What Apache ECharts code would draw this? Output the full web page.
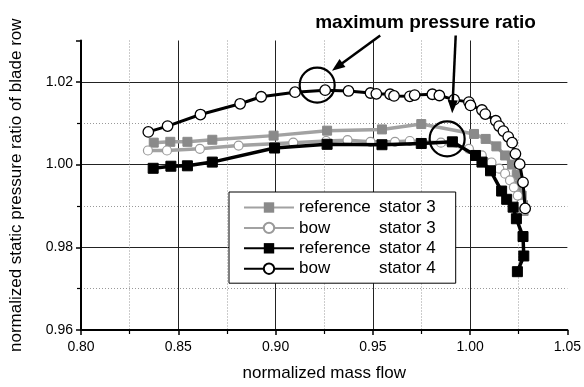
<!DOCTYPE html>
<html><head><meta charset="utf-8">
<script src="https://cdn.jsdelivr.net/npm/echarts@6/dist/echarts.min.js"></script>
<style>html,body{margin:0;padding:0;background:#fff}#c{width:584px;height:387px}</style>
</head><body><div id="c"></div>
<script>
// ---- data (normalized mass flow, normalized static pressure ratio) ----
const xTicks = [0.80, 0.85, 0.90, 0.95, 1.00, 1.05];
const yTicks = [0.96, 0.98, 1.00, 1.02];
const seriesNames = ['reference stator 3', 'bow stator 3', 'reference stator 4', 'bow stator 4'];

const refStator3 = [
  [0.8374,1.0053],[0.8459,1.0055],[0.8547,1.0055],[0.8675,1.0060],[0.8990,1.0070],
  [0.9265,1.0082],[0.9547,1.0085],[0.9749,1.0098],[1.0020,1.0074],[1.0080,1.0062],
  [1.0135,1.0044],[1.0180,1.0022],[1.0215,1.0000],[1.0240,0.9975],[1.0255,0.9950],
  [1.0265,0.9925],[1.0272,0.9902],[1.0275,0.9888]
];
const bowStator3 = [
  [0.8344,1.0034],[0.8442,1.0034],[0.8611,1.0038],[0.8810,1.0046],[0.9091,1.0053],
  [0.9260,1.0057],[0.9370,1.0059],[0.9488,1.0055],[0.9614,1.0055],[0.9690,1.0057],
  [0.9850,1.0053],[0.9994,1.0038],[1.0060,1.0022],[1.0110,1.0005],[1.0150,0.9990],
  [1.0180,0.9978],[1.0205,0.9962],[1.0225,0.9945],[1.0245,0.9925],[1.0262,0.9905],
  [1.0275,0.9890]
];
const refStator4 = [
  [0.8371,0.9991],[0.8462,0.9996],[0.8547,0.9997],[0.8675,1.0006],[0.8995,1.0040],
  [0.9265,1.0049],[0.9547,1.0048],[0.9749,1.0051],[0.9909,1.0055],[1.0028,1.0022],
  [1.0061,1.0006],[1.0105,0.9985],[1.0162,0.9936],[1.0188,0.9916],[1.0221,0.9897],
  [1.0238,0.9869],[1.0272,0.9826],[1.0276,0.9779],[1.0243,0.9741]
];
const bowStator4 = [
  [0.8346,1.0079],[0.8445,1.0093],[0.8614,1.0121],[0.8818,1.0147],[0.8926,1.0164],
  [0.9100,1.0175],[0.9255,1.0180],[0.9375,1.0178],[0.9488,1.0173],[0.9518,1.0171],
  [0.9589,1.0170],[0.9609,1.0166],[0.9690,1.0165],[0.9715,1.0168],[0.9806,1.0170],
  [0.9842,1.0167],[0.9918,1.0157],[0.9994,1.0151],[1.0002,1.0143],[1.0061,1.0132],
  [1.0078,1.0122],[1.0132,1.0106],[1.0149,1.0093],[1.0171,1.0081],[1.0196,1.0067],
  [1.0216,1.0053],[1.0233,1.0026],[1.0255,1.0001],[1.0272,0.9957],[1.0283,0.9894]
];

// annotation anchors (data coordinates)
const annotationText = 'maximum pressure ratio';
const annotationTextAt = [0.9771, 1.0342];
const highlightCircles = [[0.9214, 1.0192], [0.9882, 1.0062]];
const arrows = [
  {from: [0.9538, 1.0312], to: [0.9290, 1.0227]},
  {from: [0.9926, 1.0312], to: [0.9908, 1.0124]}
];

const FONT = '"Liberation Sans", Arial, Helvetica, sans-serif';
const chart = echarts.init(document.getElementById('c'), null, {renderer: 'canvas'});

const gray = '#a2a2a2';
const axisCommon = {
  type: 'value',
  axisLine: {show: true, lineStyle: {color: '#000', width: 2}},
  axisTick: {show: true, length: 5, lineStyle: {color: '#000', width: 1.5}},
  minorTick: {show: true, splitNumber: 2, length: 4, lineStyle: {color: '#000', width: 1.2}},
  splitLine: {show: true, showMinLine: false, showMaxLine: false, lineStyle: {color: '#222', width: 1}},
  minorSplitLine: {show: true, lineStyle: {color: '#999', width: 1, type: [1, 2]}},
  axisLabel: {color: '#000', fontSize: 14, fontFamily: FONT, formatter: v => v.toFixed(2)},
  nameLocation: 'middle',
  nameTextStyle: {color: '#000', fontSize: 17, fontFamily: FONT}
};

const option = {
  animation: false,
  backgroundColor: '#fff',
  grid: {left: 76, right: 14, top: 40.5, bottom: 51, containLabel: false},
  xAxis: Object.assign({}, axisCommon, {
    min: xTicks[0], max: xTicks[xTicks.length - 1], interval: 0.05,
    name: 'normalized mass flow', nameGap: 35,
    axisLabel: Object.assign({}, axisCommon.axisLabel, {margin: 10})
  }),
  yAxis: Object.assign({}, axisCommon, {
    min: yTicks[0], max: 1.03, interval: 0.02,
    name: 'normalized static pressure ratio of blade row', nameGap: 56,
    axisLabel: Object.assign({}, axisCommon.axisLabel, {margin: 8, showMaxLabel: false})
  }),
  legend: {
    left: 229, top: 192, orient: 'vertical',
    backgroundColor: '#fff', borderColor: '#000', borderWidth: 1,
    padding: [7, 20, 6, 14],
    itemWidth: 50, itemHeight: 13, itemGap: 3.4,
    data: seriesNames,
    formatter: name => {
      const i = name.lastIndexOf(' stator');
      return '{a|' + name.slice(0, i) + '}{b|' + name.slice(i + 1) + '}';
    },
    textStyle: {
      color: '#000', fontSize: 17, fontFamily: FONT,
      rich: {
        a: {width: 80, fontSize: 17, fontFamily: FONT, lineHeight: 20, color: '#000'},
        b: {fontSize: 17, fontFamily: FONT, lineHeight: 20, color: '#000'}
      }
    }
  },
  series: [
    {name: seriesNames[0], type: 'line', data: refStator3, symbol: 'rect', symbolSize: 9,
     lineStyle: {color: gray, width: 3.5}, itemStyle: {color: '#8a8a8a', borderColor: '#8a8a8a'}, z: 2},
    {name: seriesNames[1], type: 'line', data: bowStator3, symbol: 'circle', symbolSize: 9,
     lineStyle: {color: gray, width: 3.5}, itemStyle: {color: '#fff', borderColor: '#9a9a9a', borderWidth: 1.2}, z: 3},
    {name: seriesNames[2], type: 'line', data: refStator4, symbol: 'rect', symbolSize: 10,
     lineStyle: {color: '#000', width: 3.5}, itemStyle: {color: '#000', borderColor: '#000'}, z: 4},
    {name: seriesNames[3], type: 'line', data: bowStator4, symbol: 'circle', symbolSize: 10.5,
     lineStyle: {color: '#000', width: 3}, itemStyle: {color: '#fff', borderColor: '#000', borderWidth: 1.3}, z: 5}
  ]
};
chart.setOption(option);

// annotations
const px = p => chart.convertToPixel({gridIndex: 0}, p);
const graphics = [];
highlightCircles.forEach(c => {
  const p = px(c);
  graphics.push({type: 'circle', shape: {cx: p[0], cy: p[1], r: 17.5},
    style: {fill: 'none', stroke: '#000', lineWidth: 2.2}, z: 100});
});
arrows.forEach(a => {
  const s = px(a.from), t = px(a.to);
  const dx = t[0] - s[0], dy = t[1] - s[1];
  const len = Math.hypot(dx, dy), ux = dx / len, uy = dy / len;
  const L = 13, W = 5;
  const bx = t[0] - ux * L, by = t[1] - uy * L;
  graphics.push({type: 'line', shape: {x1: s[0], y1: s[1], x2: bx + ux * 2, y2: by + uy * 2},
    style: {stroke: '#000', lineWidth: 2.5}, z: 100});
  graphics.push({type: 'polygon', shape: {points: [[t[0], t[1]], [bx - uy * W, by + ux * W], [bx + uy * W, by - ux * W]]},
    style: {fill: '#000'}, z: 100});
});
const tp = px(annotationTextAt);
graphics.push({type: 'text', x: tp[0], y: tp[1], z: 100,
  style: {text: annotationText, font: 'bold 19px ' + FONT, fill: '#000', align: 'center', verticalAlign: 'middle'}});
chart.setOption({graphic: graphics});
</script>
</body></html>
